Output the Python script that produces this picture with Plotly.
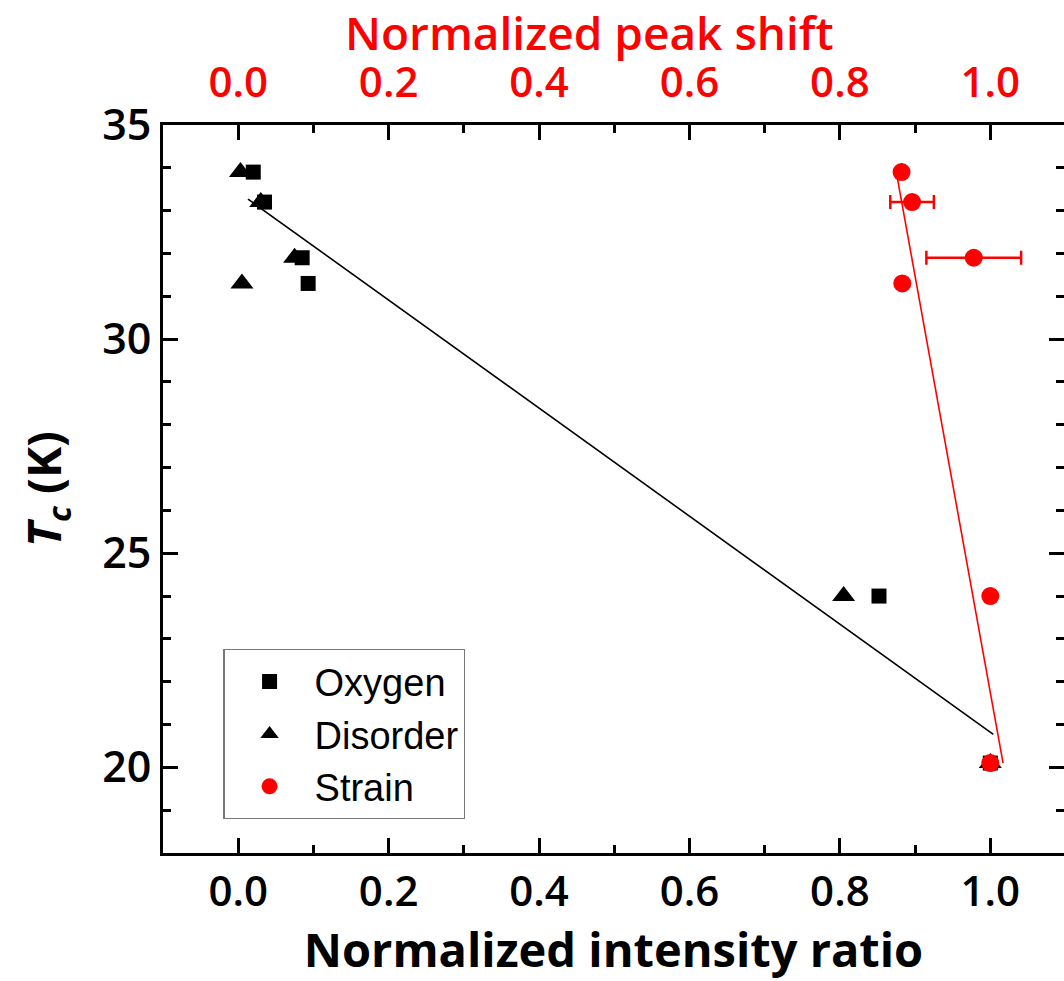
import plotly.graph_objects as go

# Critical temperature of each sample (K)
tc = [33.9, 33.2, 31.9, 31.3, 24.0, 20.1]

# Normalized intensity ratio (bottom axis)
oxygen_x = [0.020, 0.035, 0.085, 0.093, 0.852, 1.000]
disorder_x = [0.003, 0.030, 0.075, 0.005, 0.805, 1.000]

# Normalized peak shift (top axis) with uncertainties
strain_x = [0.882, 0.896, 0.978, 0.883, 1.000, 1.000]
strain_err = [0.0, 0.029, 0.063, 0.0, 0.0, 0.0]

# Linear trend lines (end points)
fit_black_x = [0.013, 1.004]
fit_black_y = [33.27, 20.77]
fit_red_x = [0.875, 1.017]
fit_red_y = [33.9, 20.1]

FONT = "Open Sans"
RED = "#ff0000"

fig = go.Figure()

fig.add_trace(go.Scatter(
    x=fit_black_x, y=fit_black_y, mode="lines",
    line=dict(color="black", width=1.6), showlegend=False, hoverinfo="skip",
))
fig.add_trace(go.Scatter(
    x=oxygen_x, y=tc, mode="markers", name="Oxygen",
    marker=dict(symbol="square", size=15, color="black"),
))
fig.add_trace(go.Scatter(
    x=disorder_x, y=tc, mode="markers", name="Disorder",
    marker=dict(symbol="triangle-up", size=20, color="black"),
))
fig.add_trace(go.Scatter(
    x=fit_red_x, y=fit_red_y, xaxis="x2", mode="lines",
    line=dict(color=RED, width=1.6), showlegend=False, hoverinfo="skip",
))
fig.add_trace(go.Scatter(
    x=strain_x, y=tc, xaxis="x2", mode="markers", name="Strain",
    marker=dict(symbol="circle", size=18, color=RED),
    error_x=dict(type="data", array=strain_err, visible=True,
                 color=RED, thickness=2.5, width=7),
))
# Anchor for the right-hand tick axis
fig.add_trace(go.Scatter(x=[None], y=[None], yaxis="y2", showlegend=False,
                         hoverinfo="skip"))

axis_common = dict(
    showgrid=False, zeroline=False, ticks="inside",
    tickcolor="black", tickwidth=2.5, ticklen=15,
)
x_range = [-0.1, 1.098]
x_ticks = [0.0, 0.2, 0.4, 0.6, 0.8, 1.0]
x_ticktext = ["0.0", "0.2", "0.4", "0.6", "0.8", "1.0"]
x_minor = dict(tickvals=[0.1, 0.3, 0.5, 0.7, 0.9], ticks="inside",
               ticklen=8, tickwidth=2.5, tickcolor="black")
y_minor = dict(dtick=1, ticks="inside", ticklen=8, tickwidth=2.5,
               tickcolor="black")

fig.update_layout(
    width=1064, height=981,
    margin=dict(l=163, r=0, t=125, b=128),
    paper_bgcolor="white", plot_bgcolor="white",
    showlegend=True,
    legend=dict(
        x=0.067, y=0.280, xanchor="left", yanchor="top",
        bgcolor="white", bordercolor="#777777", borderwidth=1.2,
        font=dict(family="Liberation Sans, Arial", size=38, color="black"),
        tracegroupgap=0, itemwidth=80,
    ),
    xaxis=dict(
        **axis_common, range=x_range,
        showline=True, linecolor="black", linewidth=3,
        tickvals=x_ticks, ticktext=x_ticktext, minor=x_minor,
        tickfont=dict(family=FONT, size=42, color="black", weight=600),
        title=dict(text="Normalized intensity ratio", standoff=14,
                   font=dict(family=FONT, size=47, color="black", weight="bold")),
    ),
    xaxis2=dict(
        **axis_common, range=x_range, overlaying="x", side="top",
        showline=True, linecolor="black", linewidth=3,
        tickvals=x_ticks, ticktext=x_ticktext, minor=x_minor,
        ticklabelstandoff=8,
        tickfont=dict(family=FONT, size=42, color=RED, weight=600),
    ),
    yaxis=dict(
        **axis_common, range=[18, 35],
        showline=True, linecolor="black", linewidth=3,
        tickvals=[20, 25, 30, 35], minor=y_minor,
        tickfont=dict(family=FONT, size=43, color="black", weight=600),
        title=dict(text="<i>T</i><sub><i>c</i></sub> (K)", standoff=26,
                   font=dict(family=FONT, size=47, color="black", weight="bold")),
    ),
    yaxis2=dict(
        **axis_common, range=[18, 35], overlaying="y", side="right",
        showline=False, showticklabels=False,
        tickvals=[20, 25, 30, 35], minor=y_minor,
    ),
    annotations=[dict(
        text="Normalized peak shift", xref="paper", yref="paper",
        x=(589 - 163) / 901, y=1, yshift=61, xanchor="center", yanchor="bottom",
        showarrow=False, borderpad=0,
        font=dict(family=FONT, size=46, color=RED, weight=600),
    )],
)

fig.write_html("out.html")
